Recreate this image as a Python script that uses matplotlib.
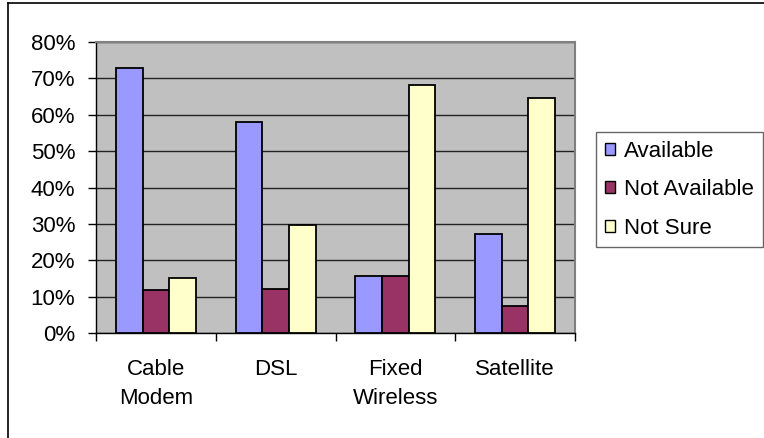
import matplotlib
matplotlib.use("Agg")
import matplotlib.pyplot as plt
from matplotlib.lines import Line2D
from matplotlib.patches import Patch
import numpy as np

categories = ["Cable\nModem", "DSL", "Fixed\nWireless", "Satellite"]
series_names = ["Available", "Not Available", "Not Sure"]
available = [0.728, 0.580, 0.158, 0.272]
not_available = [0.117, 0.122, 0.158, 0.074]
not_sure = [0.152, 0.297, 0.682, 0.646]
yticks = [0, 0.1, 0.2, 0.3, 0.4, 0.5, 0.6, 0.7, 0.8]
ytick_labels = ["0%", "10%", "20%", "30%", "40%", "50%", "60%", "70%", "80%"]
colors = ["#9999FF", "#993366", "#FFFFCC"]

plt.rcParams['font.family'] = ['Liberation Sans', 'DejaVu Sans']
FS = 16

W, H = 764, 438
fig = plt.figure(figsize=(W / 100, H / 100), dpi=100)
ax = fig.add_axes([96 / W, (H - 333) / H, (575 - 96) / W, (333 - 42) / H])
ax.set_facecolor("#C0C0C0")

x = np.arange(len(categories))
bw = 0.222
for i, (vals, c) in enumerate(zip([available, not_available, not_sure], colors)):
    ax.bar(x + (i - 1) * bw, vals, width=bw, color=c, edgecolor="black",
           linewidth=1.3, zorder=3, label=series_names[i])

ax.set_xlim(-0.5, len(categories) - 0.5)
ax.set_ylim(0, 0.8)
ax.set_yticks(yticks)
ax.set_yticklabels(ytick_labels, fontsize=FS)
ax.yaxis.grid(True, color="#222222", linewidth=1.0, zorder=1)
ax.set_axisbelow(True)

ax.set_xticks(x)
ax.set_xticklabels(categories, fontsize=FS, linespacing=1.45)
ax.set_xticks(np.arange(-0.5, len(categories)), minor=True)
ax.tick_params(axis="x", which="major", length=0, pad=19)
ax.tick_params(axis="x", which="minor", length=6, width=1, color="black")
ax.tick_params(axis="y", length=6, width=1, color="black", pad=9)

for s in ["top", "right"]:
    ax.spines[s].set_color("#808080")
    ax.spines[s].set_linewidth(1.5)
for s in ["left", "bottom"]:
    ax.spines[s].set_color("black")
    ax.spines[s].set_linewidth(1.0)

handles = [Patch(facecolor=c, edgecolor="black", linewidth=1.0) for c in colors]
leg = fig.legend(handles, series_names, loc="upper left",
                 bbox_to_anchor=(596 / W, (H - 132) / H),
                 fontsize=FS, frameon=True, fancybox=False,
                 edgecolor="#404040", handlelength=0.45, handleheight=0.45,
                 handletextpad=0.4, labelspacing=0.78, borderpad=0.4,
                 borderaxespad=0)
leg.get_frame().set_linewidth(1.0)

# outer chart frame
fig.add_artist(Line2D([8 / W, 8 / W], [0, (H - 3) / H], transform=fig.transFigure,
                      color="black", linewidth=1.2))
fig.add_artist(Line2D([8 / W, 1], [(H - 3) / H, (H - 3) / H], transform=fig.transFigure,
                      color="black", linewidth=1.2))

fig.savefig("out.png", dpi=100)
